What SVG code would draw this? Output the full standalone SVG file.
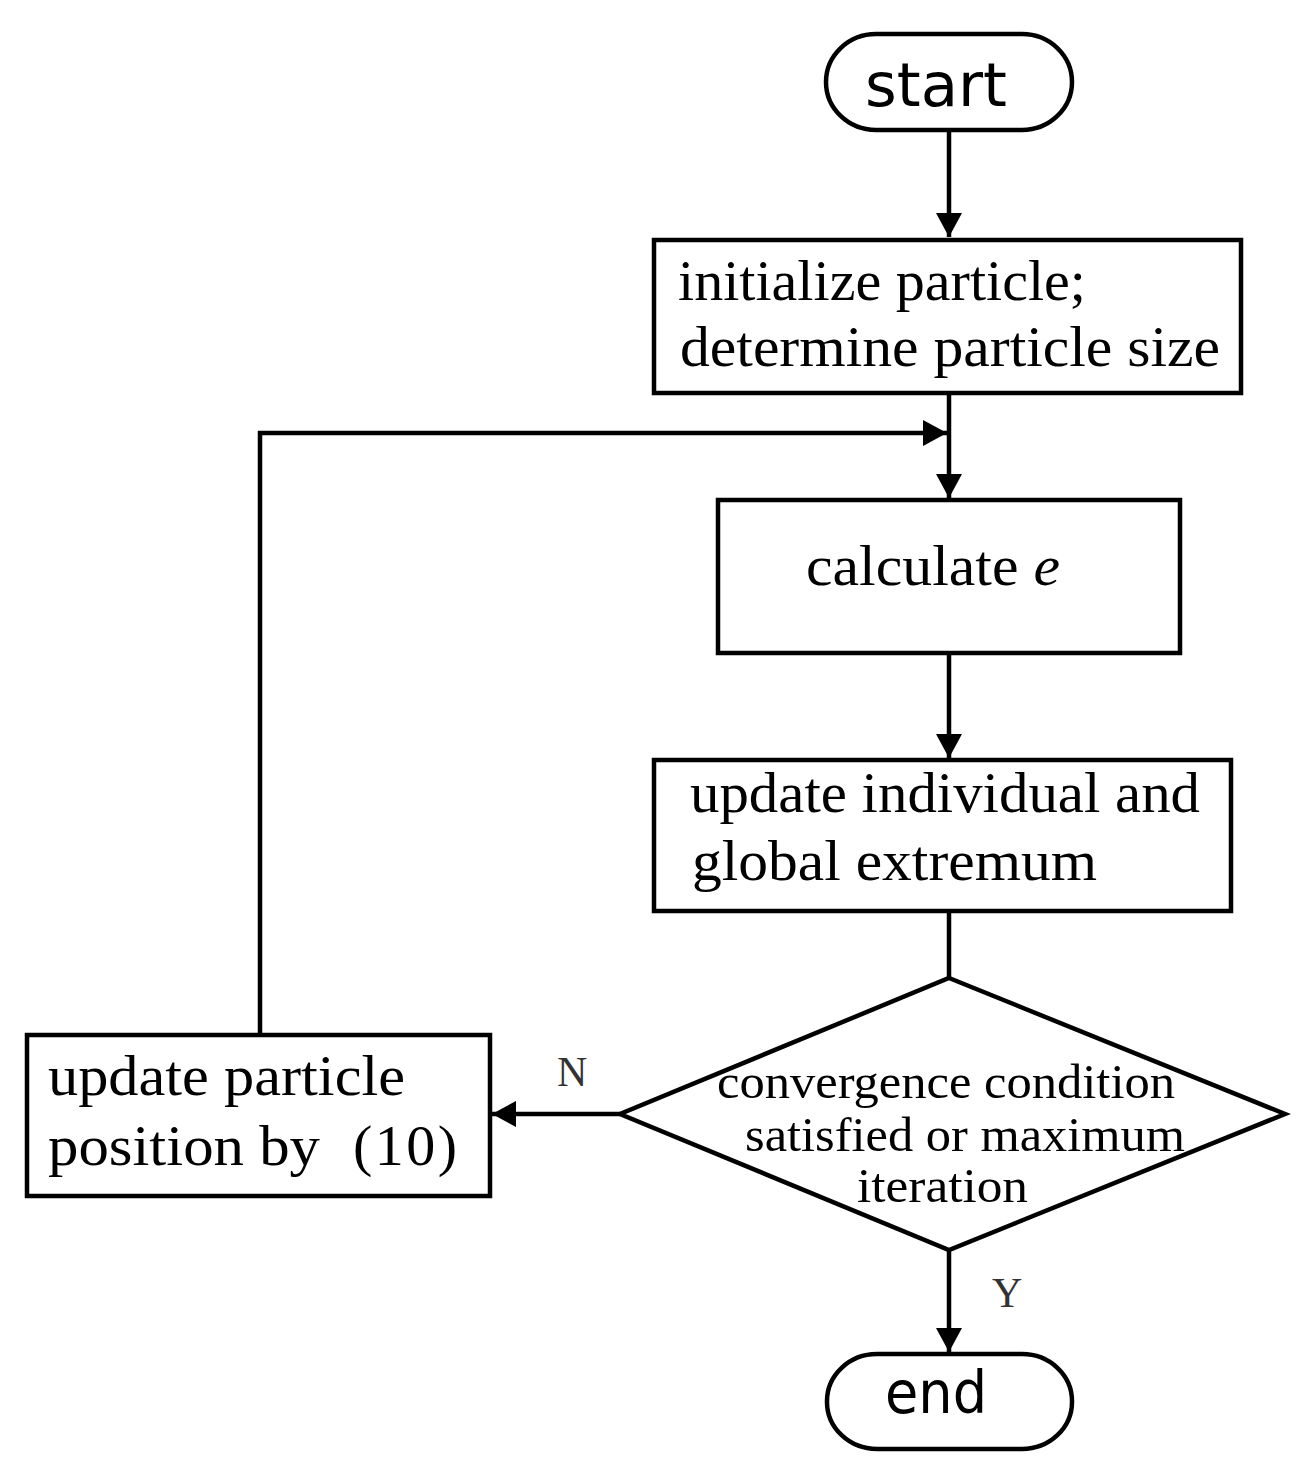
<svg xmlns="http://www.w3.org/2000/svg" width="1303" height="1474" viewBox="0 0 1303 1474">
<defs>
<style>
.node{fill:#fff;stroke:#000;stroke-width:4.5}
.edge{fill:none;stroke:#000;stroke-width:4.5}
.ser{font-family:"Liberation Serif","Times New Roman",serif;fill:#000}
.sans{font-family:"DejaVu Sans","Verdana",sans-serif;fill:#000}
.lbl{font-family:"Liberation Serif","Times New Roman",serif;fill:#333;font-size:42px}
</style>
<marker id="arr" viewBox="0 0 24 26" refX="24" refY="13" markerWidth="24" markerHeight="26" markerUnits="userSpaceOnUse" orient="auto">
<path d="M0,0 L24,13 L0,26 Z" fill="#000"/>
</marker>
</defs>
<rect width="1303" height="1474" fill="#fff"/>
<g id="connectors">
<line class="edge" x1="949" y1="130" x2="949" y2="237" marker-end="url(#arr)"/>
<line class="edge" x1="949" y1="393" x2="949" y2="498" marker-end="url(#arr)"/>
<polyline class="edge" points="260,1035 260,433 947,433" marker-end="url(#arr)"/>
<line class="edge" x1="949" y1="653" x2="949" y2="758" marker-end="url(#arr)"/>
<line class="edge" x1="949" y1="911" x2="949" y2="978"/>
<line class="edge" x1="620" y1="1114" x2="492" y2="1114" marker-end="url(#arr)"/>
<line class="edge" x1="949" y1="1250" x2="949" y2="1352" marker-end="url(#arr)"/>
<text class="lbl" x="557" y="1086">N</text>
<text class="lbl" x="992" y="1307">Y</text>
</g>
<g id="start">
<rect class="node" x="826" y="34" width="246" height="96" rx="50" ry="48"/>
<text class="sans" x="865" y="106" font-size="60" textLength="142" lengthAdjust="spacingAndGlyphs">start</text>
</g>
<g id="init">
<rect class="node" x="654" y="240" width="587" height="153"/>
<text class="ser" x="678" y="300" font-size="57" textLength="408" lengthAdjust="spacingAndGlyphs">initialize particle;</text>
<text class="ser" x="680" y="366" font-size="57" textLength="540" lengthAdjust="spacingAndGlyphs">determine particle size</text>
</g>
<g id="calc">
<rect class="node" x="718" y="500" width="462" height="153"/>
<text class="ser" x="806" y="585" font-size="57" textLength="254" lengthAdjust="spacingAndGlyphs">calculate <tspan font-style="italic">e</tspan></text>
</g>
<g id="update">
<rect class="node" x="654" y="760" width="577" height="151"/>
<text class="ser" x="690" y="812" font-size="57" textLength="510" lengthAdjust="spacingAndGlyphs">update individual and</text>
<text class="ser" x="692" y="880" font-size="57" textLength="405" lengthAdjust="spacingAndGlyphs">global extremum</text>
</g>
<g id="decision">
<polygon class="node" points="949,978 1285,1114 949,1250 620,1114"/>
<text class="ser" x="717" y="1098" font-size="48" textLength="458" lengthAdjust="spacingAndGlyphs">convergence condition</text>
<text class="ser" x="745" y="1151" font-size="48" textLength="440" lengthAdjust="spacingAndGlyphs">satisfied or maximum</text>
<text class="ser" x="857" y="1202" font-size="48" textLength="171" lengthAdjust="spacingAndGlyphs">iteration</text>
</g>
<g id="position">
<rect class="node" x="27" y="1035" width="463" height="161"/>
<text class="ser" x="48" y="1095" font-size="58" textLength="357" lengthAdjust="spacingAndGlyphs">update particle</text>
<text class="ser" x="48" y="1165" font-size="58"><tspan textLength="272" lengthAdjust="spacingAndGlyphs">position by</tspan><tspan x="353" textLength="104" lengthAdjust="spacing">(10)</tspan></text>
</g>
<g id="end">
<rect class="node" x="827" y="1354" width="245" height="95" rx="50" ry="47"/>
<text class="sans" x="885" y="1413" font-size="58" textLength="102" lengthAdjust="spacingAndGlyphs">end</text>
</g>
</svg>
